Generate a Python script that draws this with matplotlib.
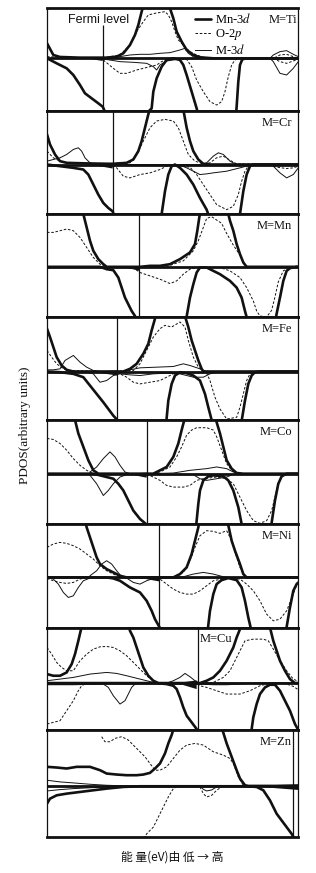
import numpy as np
import matplotlib
matplotlib.use("Agg")
import matplotlib.pyplot as plt
from matplotlib.lines import Line2D

plt.rcParams['font.family'] = ['Liberation Serif', 'DejaVu Serif']
plt.rcParams['mathtext.fontset'] = 'stix'

# panels, top to bottom
metals = ['Ti', 'Cr', 'Mn', 'Fe', 'Co', 'Ni', 'Cu', 'Zn']
fermi = [188, 218, 298, 232, 320, 358, 473, 760]        # energy of Fermi level (arb.)
dos_top = [150, 160, 158, 163, 160, 160, 167, 167]      # spin-up limit (arb.)
dos_bottom = [-158, -148, -150, -145, -150, -150, -141, -151]
# dense dark region near E_F: (e_start, e_end, low, high)
wedges = [(140, 188, -8, 2), (150, 218, -12, 3), (250, 298, -12, 2), (150, 232, -12, 3),
          (260, 320, -12, 3), (290, 358, -12, 3), (410, 470, -18, 8), (620, 775, -12, 5)]

# ---- M=Ti ----
ti_mn_up = [(21, 45), (40, 10), (60, 4), (120, 2), (200, 2), (230, 5), (250, 15), (270, 40), (285, 70),
            (295, 100), (305, 140), (315, 175), (350, 200), (380, 175), (390, 150), (400, 120), (410, 80),
            (425, 50), (440, 25), (460, 10), (480, 3), (520, 0), (775, 0)]
ti_mn_dn = [(21, 0), (50, -15), (80, -30), (100, -50), (120, -80), (135, -105), (155, -120), (175, -135),
            (188, -145), (195, -160), (265, -220), (335, -150), (340, -100), (350, -60), (365, -25), (380, -5),
            (400, 0), (420, -5), (430, -20), (440, -50), (455, -100), (470, -150), (475, -170), (530, -250),
            (588, -170), (590, -145), (595, -70), (600, -20), (607, -3), (620, 0), (775, 0)]
ti_o_up = [(21, 5), (180, 0), (240, 10), (270, 40), (290, 80), (310, 110), (325, 130), (345, 135), (375, 140),
           (385, 130), (395, 110), (405, 80), (415, 55), (430, 40), (450, 20), (470, 10), (490, 3), (520, 0),
           (700, 0), (720, 10), (740, 12), (760, 5), (775, 0)]
ti_o_dn = [(190, -5), (220, -30), (240, -45), (260, -45), (290, -35), (330, -25), (350, -20), (365, -10),
           (380, -3), (440, -3), (455, -25), (470, -65), (490, -100), (510, -130), (530, -140), (545, -130),
           (555, -100), (565, -55), (575, -20), (585, -5), (600, 0), (700, 0), (720, -10), (740, -15),
           (760, -8), (775, -3)]
ti_m_up = [(21, 0), (200, 0), (240, 5), (270, 10), (300, 12), (330, 12), (360, 15), (390, 17), (420, 25),
           (435, 30), (445, 15), (460, 5), (480, 0), (690, 0), (700, 10), (720, 20), (740, 23), (760, 12), (775, 5)]
ti_m_dn = [(190, -2), (240, -10), (280, -12), (320, -15), (340, -25), (350, -35), (360, -20), (380, -8),
           (420, -2), (690, 0), (700, -10), (720, -45), (740, -50), (760, -30), (775, -10)]

# ---- M=Cr ----
cr_mn_up = [(21, 90), (30, 60), (45, 30), (60, 10), (80, 5), (150, 3), (218, 2), (260, 5), (280, 15), (295, 40),
            (305, 70), (315, 110), (325, 150), (332, 175), (380, 200), (428, 175), (440, 110), (450, 70),
            (460, 40), (475, 15), (490, 2), (510, 0), (775, 0)]
cr_mn_dn = [(21, 0), (60, -5), (100, -10), (130, -15), (145, -30), (160, -60), (175, -90), (190, -115),
            (205, -130), (218, -140), (225, -160), (290, -250), (360, -160), (365, -148), (375, -80), (385, -30),
            (395, -5), (405, 0), (420, -10), (440, -30), (460, -60), (480, -100), (500, -135), (507, -155),
            (550, -250), (597, -160), (600, -148), (610, -80), (620, -30), (630, -5), (640, 0), (775, 0)]
cr_o_up = [(21, 40), (40, 20), (60, 10), (80, 5), (200, 3), (270, 5), (290, 30), (310, 70), (330, 110),
           (350, 130), (375, 135), (400, 130), (415, 110), (430, 70), (445, 30), (465, 10), (490, 2), (510, 5),
           (530, 20), (550, 25), (575, 10), (590, 2), (775, 0)]
cr_o_dn = [(218, -2), (230, -10), (250, -35), (270, -40), (300, -30), (330, -25), (360, -15), (380, -5),
           (400, -2), (450, -8), (470, -30), (490, -60), (510, -90), (530, -120), (560, -135), (580, -125),
           (595, -90), (605, -50), (615, -20), (625, -5), (640, 0), (690, 0), (710, -8), (740, -12),
           (760, -10), (775, -5)]
cr_m_up = [(21, 10), (40, 15), (60, 20), (80, 30), (100, 45), (115, 50), (125, 40), (135, 20), (150, 5),
           (170, 0), (480, 0), (500, 5), (520, 25), (535, 35), (550, 30), (570, 10), (590, 0), (775, 0)]
cr_m_dn = [(420, -2), (440, -10), (460, -20), (480, -30), (500, -28), (520, -25), (560, -20), (600, -10),
           (630, -2), (690, 0), (700, -5), (720, -25), (740, -40), (760, -30), (775, -10)]

# ---- M=Mn ----
mn_mn_up = [(100, 230), (130, 158), (140, 118), (150, 78), (160, 48), (175, 23), (190, 8), (200, 0), (300, 0),
            (330, 3), (360, 3), (390, 8), (420, 23), (450, 43), (465, 68), (472, 108), (478, 148), (482, 170),
            (520, 200), (562, 170), (570, 138), (580, 108), (590, 68), (600, 38), (610, 13), (620, 0), (775, 0)]
mn_mn_dn = [(21, 0), (180, 0), (200, -7), (220, -10), (235, -32), (245, -62), (255, -92), (265, -112),
            (275, -132), (285, -147), (290, -165), (360, -250), (438, -160), (450, -92), (460, -52), (470, -17),
            (480, -2), (500, -2), (520, -12), (540, -22), (570, -42), (590, -62), (605, -92), (615, -132),
            (620, -150), (625, -170), (670, -250), (705, -170), (710, -140), (720, -92), (730, -42), (740, -12),
            (750, -4), (770, 0), (775, 0)]
mn_o_up = [(21, 103), (40, 103), (60, 108), (80, 113), (100, 108), (120, 88), (140, 58), (160, 28), (180, 8),
           (200, 0), (380, 0), (400, 8), (430, 18), (460, 48), (475, 78), (490, 118), (500, 145), (515, 150),
           (530, 140), (545, 130), (560, 100), (580, 65), (600, 35), (615, 5), (625, 0), (775, 0)]
mn_o_dn = [(21, 0), (280, -3), (300, -17), (330, -27), (360, -37), (390, -50), (410, -42), (430, -22),
           (450, -7), (470, -2), (540, -2), (570, -12), (600, -32), (620, -62), (640, -102), (650, -132),
           (660, -147), (680, -150), (695, -130), (705, -90), (715, -45), (730, -12), (750, -2), (775, 0)]
mn_m_up = []
mn_m_dn = []

# ---- M=Fe ----
fe_mn_up = [(21, 128), (30, 103), (40, 73), (50, 43), (65, 18), (80, 5), (100, 0), (250, 0), (270, 8),
            (290, 23), (310, 53), (325, 83), (335, 123), (345, 158), (350, 180), (390, 220), (432, 175),
            (445, 133), (455, 93), (465, 63), (475, 33), (485, 8), (490, 0), (775, 0)]
fe_mn_dn = [(21, 0), (60, -2), (100, -7), (130, -17), (150, -42), (170, -67), (190, -92), (205, -112),
            (220, -132), (232, -145), (240, -165), (300, -250), (378, -160), (385, -87), (395, -37), (405, -12),
            (420, -2), (440, -5), (460, -12), (480, -27), (495, -67), (505, -107), (515, -145), (520, -165),
            (560, -250), (603, -160), (615, -87), (625, -37), (635, -12), (645, -2), (660, 0), (775, 0)]
fe_o_up = [(21, 63), (35, 43), (50, 23), (70, 8), (90, 3), (200, 0), (280, 3), (300, 23), (320, 63), (340, 103),
           (360, 128), (375, 138), (395, 133), (420, 148), (435, 133), (445, 93), (460, 43), (475, 13),
           (490, 3), (510, 0), (775, 0)]
fe_o_dn = [(232, -2), (240, -7), (260, -17), (280, -32), (300, -37), (330, -32), (360, -27), (380, -17),
           (400, -7), (420, -2), (490, -5), (500, -5), (510, -27), (525, -77), (540, -112), (560, -142),
           (590, -137), (600, -107), (610, -67), (620, -27), (630, -7), (645, 0), (775, 0)]
fe_m_up = [(21, 5), (40, 5), (60, 8), (75, 33), (100, 48), (120, 28), (140, 13), (160, 3), (180, 0), (250, 0),
           (260, 3), (300, 11), (350, 13), (400, 15), (430, 23), (450, 18), (480, 8), (500, 0), (775, 0)]
fe_m_dn = [(140, -2), (160, -7), (180, -32), (200, -27), (220, -12), (240, -7), (270, -10), (300, -12),
           (340, -7), (380, -5), (420, -7), (460, -17), (490, -17), (510, -7), (530, -2), (550, 0), (775, 0)]

# ---- M=Co ----
co_mn_up = [(90, 230), (105, 160), (115, 120), (130, 80), (145, 40), (160, 10), (175, 0), (340, 0), (360, 10),
            (380, 20), (400, 50), (415, 90), (425, 130), (433, 160), (480, 230), (528, 160), (540, 120),
            (550, 80), (560, 40), (575, 15), (590, 2), (610, 0), (775, 0)]
co_mn_dn = [(21, 0), (160, 0), (180, -5), (200, -10), (220, -15), (235, -30), (250, -50), (265, -80),
            (280, -110), (300, -135), (318, -150), (325, -170), (400, -250), (468, -160), (475, -90), (480, -50),
            (490, -20), (505, -8), (520, -5), (550, -8), (565, -20), (580, -50), (595, -100), (605, -150),
            (610, -170), (650, -250), (693, -160), (705, -80), (715, -30), (725, -8), (740, 0), (775, 0)]
co_o_up = [(21, 105), (40, 102), (60, 90), (80, 70), (100, 45), (120, 25), (140, 10), (160, 0), (330, 0),
           (360, 5), (390, 20), (410, 50), (425, 80), (440, 115), (455, 130), (470, 137), (500, 137), (520, 130),
           (530, 110), (545, 70), (560, 30), (575, 10), (590, 0), (775, 0)]
co_o_dn = [(320, -2), (340, -10), (360, -20), (380, -35), (400, -40), (430, -40), (450, -35), (470, -20),
           (490, -15), (530, -10), (560, -15), (580, -30), (600, -70), (620, -110), (640, -140), (660, -148),
           (680, -140), (695, -110), (705, -70), (715, -30), (725, -8), (740, 0), (775, 0)]
co_m_up = [(150, 5), (170, 20), (190, 45), (210, 65), (225, 50), (240, 25), (255, 5), (270, 0), (330, 0),
           (400, 2), (450, 10), (500, 15), (530, 20), (560, 15), (580, 5), (600, 0), (775, 0)]
co_m_dn = [(150, -5), (170, -30), (190, -65), (205, -50), (220, -30), (240, -10), (260, -3), (460, -3),
           (480, -15), (500, -20), (530, -15), (560, -10), (580, -2), (775, 0)]

# ---- M=Ni ----
ni_mn_up = [(120, 230), (140, 150), (150, 120), (160, 90), (170, 60), (180, 40), (200, 25), (220, 15),
            (240, 5), (260, 0), (400, 0), (420, 10), (440, 30), (455, 70), (465, 110), (475, 150), (480, 180),
            (520, 230), (562, 170), (575, 110), (585, 80), (600, 40), (610, 10), (620, 0), (775, 0)]
ni_mn_dn = [(21, 0), (200, 0), (220, -3), (240, -10), (270, -30), (300, -45), (320, -70), (335, -100),
            (345, -125), (358, -148), (365, -170), (430, -250), (503, -160), (510, -100), (520, -50), (530, -20),
            (545, -8), (565, -2), (590, -8), (605, -30), (615, -70), (625, -120), (632, -150), (640, -175),
            (690, -250), (738, -160), (750, -90), (760, -40), (770, -20), (775, -15)]
ni_o_up = [(21, 90), (40, 100), (60, 105), (80, 102), (100, 95), (120, 85), (140, 70), (160, 55), (180, 35),
           (200, 20), (220, 10), (240, 2), (260, 0), (400, 2), (430, 15), (450, 50), (465, 90), (480, 125),
           (500, 140), (520, 138), (540, 132), (560, 140), (575, 110), (590, 60), (600, 30), (610, 10),
           (620, 0), (775, 0)]
ni_o_dn = [(21, -3), (40, -10), (60, -15), (80, -18), (100, -15), (120, -5), (140, 0), (350, 0), (360, -5),
           (380, -20), (400, -35), (420, -45), (440, -50), (460, -50), (480, -40), (500, -25), (520, -10),
           (560, -2), (600, -5), (620, -20), (640, -40), (660, -70), (680, -110), (700, -130), (720, -125),
           (740, -100), (760, -50), (775, -10)]
ni_m_up = [(150, 5), (170, 20), (185, 40), (200, 50), (215, 40), (230, 20), (245, 2), (260, 0), (430, 2),
           (460, 10), (490, 15), (520, 10), (550, 2), (570, 0), (775, 0)]
ni_m_dn = [(21, 0), (40, -5), (55, -20), (70, -45), (85, -60), (100, -55), (115, -30), (130, -10), (150, -2),
           (260, -2), (280, -15), (300, -20), (320, -10), (340, -3), (775, 0)]

# ---- M=Cu ----
cu_mn_up = [(21, 27), (40, 22), (60, 22), (80, 32), (95, 57), (105, 87), (115, 127), (122, 157), (130, 190),
            (200, 230), (265, 180), (270, 157), (280, 137), (290, 107), (300, 77), (310, 47), (325, 22),
            (340, 7), (355, 0), (480, 0), (500, 7), (520, 17), (540, 37), (560, 67), (580, 107), (590, 137),
            (600, 162), (610, 190), (650, 230), (688, 175), (700, 127), (710, 97), (720, 67), (735, 37),
            (750, 12), (765, 0), (775, 0)]
cu_mn_dn = [(21, 0), (350, 0), (380, -3), (400, -8), (410, -18), (420, -43), (430, -73), (440, -98),
            (455, -118), (470, -138), (478, -160), (550, -250), (632, -160), (640, -103), (650, -63), (660, -33),
            (675, -13), (690, -5), (705, -5), (720, -23), (735, -53), (750, -83), (765, -123), (775, -141)]
cu_o_up = [(21, 107), (35, 87), (50, 62), (65, 47), (80, 37), (100, 37), (120, 67), (140, 87), (160, 102),
           (180, 109), (200, 110), (220, 107), (240, 97), (260, 82), (280, 62), (300, 42), (320, 22), (340, 7),
           (360, 0), (480, 0), (520, 2), (550, 17), (570, 37), (590, 77), (605, 107), (615, 127), (640, 132),
           (670, 132), (685, 127), (700, 102), (720, 67), (740, 37), (760, 12), (775, 5)]
cu_o_dn = [(21, -123), (40, -118), (60, -113), (80, -83), (100, -53), (115, -23), (125, -8), (135, -3),
           (150, 0), (470, 0), (480, -8), (500, -13), (530, -23), (560, -33), (600, -33), (630, -23), (660, -8),
           (680, -3), (700, 0), (740, -3), (760, -10), (775, -20)]
cu_m_up = [(21, 7), (60, 12), (100, 17), (150, 27), (200, 32), (230, 29), (260, 22), (300, 12), (340, 2),
           (380, 0), (400, 7), (420, 17), (435, 29), (450, 19), (465, 7), (480, 0), (775, 0)]
cu_m_dn = [(21, -5), (100, -5), (190, -3), (205, -13), (220, -38), (240, -63), (255, -53), (265, -33),
           (275, -13), (285, -3), (300, 0), (480, -3), (520, -5), (560, -5), (600, -3), (640, 0), (775, 0)]

# ---- M=Zn ----
zn_mn_up = [(21, 57), (50, 55), (80, 52), (110, 57), (150, 57), (180, 47), (200, 37), (230, 34), (260, 32),
            (290, 32), (310, 34), (330, 39), (345, 52), (360, 67), (375, 97), (385, 127), (395, 152), (402, 175),
            (470, 230), (545, 175), (560, 127), (575, 87), (590, 47), (600, 22), (615, 2), (625, 0), (775, 0)]
zn_mn_dn = [(21, -53), (30, -38), (50, -28), (80, -23), (120, -18), (160, -13), (200, -8), (250, -3),
            (300, -1), (620, -1), (650, -3), (670, -13), (690, -43), (710, -83), (725, -103), (740, -123),
            (755, -143), (765, -160)]
zn_o_up = [(185, 147), (195, 132), (210, 132), (225, 142), (245, 147), (265, 137), (285, 117), (300, 102),
           (315, 87), (330, 67), (345, 47), (360, 47), (380, 57), (400, 82), (420, 107), (440, 122), (465, 127),
           (490, 122), (520, 102), (550, 92), (570, 82), (580, 67), (595, 27), (610, 2), (620, 0), (775, 0)]
zn_o_dn = [(300, -180), (320, -143), (340, -123), (355, -93), (370, -63), (385, -33), (400, -8), (415, 0),
           (480, -3), (490, -23), (500, -33), (515, -28), (530, -13), (545, -3), (560, 0), (775, 0)]
zn_m_up = [(21, 17), (60, 12), (100, 9), (150, 5), (200, 2), (260, 0), (775, 0)]
zn_m_dn = [(21, -15), (60, -11), (100, -8), (200, -3), (300, -1), (480, -1), (490, -10), (500, -15),
           (515, -12), (530, -3), (545, 0), (775, 0)]

mn3d = [(ti_mn_up, ti_mn_dn), (cr_mn_up, cr_mn_dn), (mn_mn_up, mn_mn_dn), (fe_mn_up, fe_mn_dn),
        (co_mn_up, co_mn_dn), (ni_mn_up, ni_mn_dn), (cu_mn_up, cu_mn_dn), (zn_mn_up, zn_mn_dn)]
o2p = [(ti_o_up, ti_o_dn), (cr_o_up, cr_o_dn), (mn_o_up, mn_o_dn), (fe_o_up, fe_o_dn),
       (co_o_up, co_o_dn), (ni_o_up, ni_o_dn), (cu_o_up, cu_o_dn), (zn_o_up, zn_o_dn)]
m3d = [(ti_m_up, ti_m_dn), (cr_m_up, cr_m_dn), (mn_m_up, mn_m_dn), (fe_m_up, fe_m_dn),
       (co_m_up, co_m_dn), (ni_m_up, ni_m_dn), (cu_m_up, cu_m_dn), (zn_m_up, zn_m_dn)]

W, H = 316, 873
edges = [8.3, 111, 214, 317, 420, 524, 627.5, 730, 836.5]   # panel borders, px from top
x0, x1 = 47, 298.3

fig = plt.figure(figsize=(W / 100, H / 100), dpi=100)
ink = '#111111'
thick = dict(color=ink, lw=1.9, solid_joinstyle='round', solid_capstyle='round')
dash = dict(color=ink, lw=0.7, ls=(0, (2.6, 1.8)))
thin = dict(color=ink, lw=0.7)


def line(ax, pts, **kw):
    if len(pts) == 0:
        return
    a = np.array(pts, dtype=float)
    ax.plot(a[:, 0], a[:, 1], **kw)


axes = []
for i, m in enumerate(metals):
    top, bot = edges[i], edges[i + 1]
    ax = fig.add_axes([x0 / W, 1 - bot / H, (x1 - x0) / W, (bot - top) / H])
    ax.set_xlim(21, 775)
    ax.set_ylim(dos_bottom[i], dos_top[i])
    ax.set_xticks([])
    ax.set_yticks([])
    for s in ['top', 'bottom']:
        ax.spines[s].set_linewidth(2.0)
    for s in ['left', 'right']:
        ax.spines[s].set_linewidth(0.9)
    for s in ax.spines.values():
        s.set_color(ink)

    for up, dn in [m3d[i]]:
        line(ax, up, **thin)
        line(ax, dn, **thin)
    for up, dn in [o2p[i]]:
        line(ax, up, **dash)
        line(ax, dn, **dash)
    for up, dn in [mn3d[i]]:
        line(ax, up, **thick)
        line(ax, dn, **thick)

    e0, e1, lo, hi = wedges[i]
    ax.fill([e0, e1, e1], [0, hi, lo], color=ink, lw=0)
    ax.axhline(0, color=ink, lw=2.0)

    ftop = 100 if i == 0 else dos_top[i]
    ax.vlines(fermi[i], dos_bottom[i], ftop, color=ink, lw=0.9)

    ytxt = dos_top[i] - 36
    if m == 'Cu':
        ax.text(fermi[i] + 5, ytxt, 'M=' + m, ha='left', va='center', fontsize=9, color=ink)
    elif m != 'Ti':
        ax.text(756, ytxt, 'M=' + m, ha='right', va='center', fontsize=9, color=ink)
    axes.append(ax)

ax = axes[0]
ax.text(771, 115, 'M=Ti', ha='right', va='center', fontsize=9, color=ink)
ax.text(84, 115, 'Fermi level', ha='left', va='center', fontsize=9, color=ink,
        family=['Liberation Sans', 'DejaVu Sans'])

handles = [Line2D([], [], **thick), Line2D([], [], **dash), Line2D([], [], **thin)]
labels = ['Mn-3$d$', 'O-2$p$', 'M-3$d$']
ax.legend(handles, labels, loc='upper left', bbox_to_anchor=(195 / W, 1 - 12 / H),
          bbox_transform=fig.transFigure, frameon=False, fontsize=9, handlelength=1.3,
          handletextpad=0.3, labelspacing=0.1, borderpad=0, borderaxespad=0)

fig.text(25 / W, 1 - 425 / H, 'PDOS(arbitrary units)', rotation=90, ha='center', va='center',
         fontsize=9.5, color=ink)
fig.text(172 / W, 1 - 857 / H, '能 量(eV)由 低 → 高', ha='center', va='center', fontsize=8.5,
         color=ink, family=['Noto Sans CJK SC', 'DejaVu Sans'])

fig.savefig('out.png', dpi=100)
